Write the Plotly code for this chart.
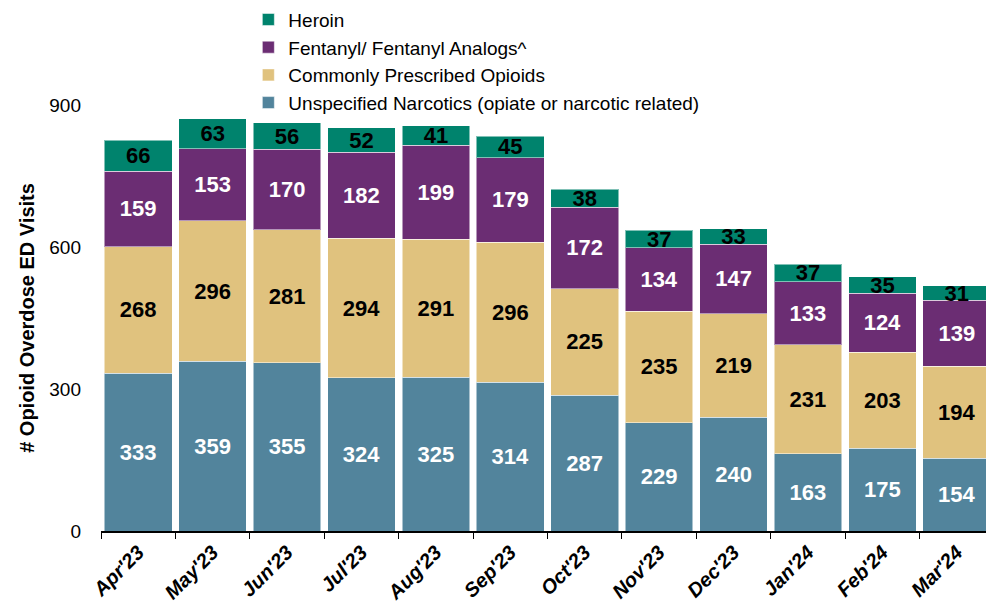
import plotly.graph_objects as go

months = ["Apr'23", "May'23", "Jun'23", "Jul'23", "Aug'23", "Sep'23",
          "Oct'23", "Nov'23", "Dec'23", "Jan'24", "Feb'24", "Mar'24"]
unspecified = [333, 359, 355, 324, 325, 314, 287, 229, 240, 163, 175, 154]
prescribed = [268, 296, 281, 294, 291, 296, 225, 235, 219, 231, 203, 194]
fentanyl = [159, 153, 170, 182, 199, 179, 172, 134, 147, 133, 124, 139]
heroin = [66, 63, 56, 52, 41, 45, 38, 37, 33, 37, 35, 31]

series = [
    ("Unspecified Narcotics (opiate or narcotic related)", unspecified, "#52849C", "white"),
    ("Commonly Prescribed Opioids", prescribed, "#E0C27E", "black"),
    ("Fentanyl/ Fentanyl Analogs^", fentanyl, "#6B2D73", "white"),
    ("Heroin", heroin, "#00836D", "black"),
]

FONT = "Arial, Liberation Sans, sans-serif"

fig = go.Figure()
for name, vals, color, tcolor in series:
    fig.add_trace(go.Bar(
        x=months, y=vals, name=name,
        marker=dict(color=color, line=dict(color="rgba(255,255,255,0.5)", width=1)),
        text=[str(v) for v in vals], textposition="inside",
        insidetextanchor="middle", constraintext="none",
        textfont=dict(family=FONT, size=22, color=tcolor, weight="bold"),
        textangle=0,
    ))

fig.update_layout(
    barmode="stack", bargap=0.09,
    width=986, height=604,
    margin=dict(l=93, r=0, t=97, b=81, autoexpand=False),
    plot_bgcolor="white", paper_bgcolor="white",
    font=dict(family=FONT, color="black"),
    legend=dict(
        traceorder="reversed", orientation="v",
        x=0.165, xanchor="left", y=1.245, yanchor="top",
        font=dict(size=19, color="black"),
        bgcolor="rgba(0,0,0,0)", itemwidth=30, tracegroupgap=0,
    ),
    xaxis=dict(
        type="category", showline=True, linecolor="black", linewidth=1.5,
        ticks="outside", tickson="boundaries", ticklen=6, tickcolor="black",
        tickangle=-45, showgrid=False, automargin=False,
        tickfont=dict(size=20, weight="bold", style="italic", color="black"),
    ),
    yaxis=dict(
        range=[0, 900], tickvals=[0, 300, 600, 900], showgrid=False,
        showline=False, zeroline=False, ticks="", automargin=False,
        ticklabelstandoff=19,
        tickfont=dict(size=19, color="black"),
        title=dict(text="# Opioid Overdose ED Visits",
                   font=dict(size=20, weight="bold", color="black"), standoff=9),
    ),
)

fig.write_html("out.html")
